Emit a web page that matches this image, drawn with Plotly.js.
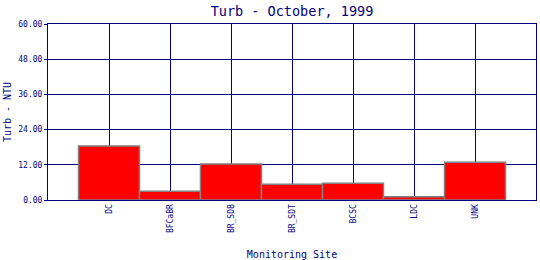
<!DOCTYPE html>
<html>
<head>
<meta charset="utf-8">
<script src="https://cdn.plot.ly/plotly-3.0.1.min.js"></script>
<style>html,body{margin:0;padding:0;background:#fff;}#chart{width:540px;height:260px;}</style>
</head>
<body>
<div id="chart"></div>
<script>
const sites = ["DC", "BFCaBR", "BR_SDB", "BR_SDT", "BCSC", "LDC", "UNK"];
const turb = [18.4, 3.0, 12.3, 5.4, 5.7, 1.1, 12.9];
const yTicks = [0, 12, 24, 36, 48, 60];

const navy = "#000080";
const mono = "DejaVu Sans Mono, Liberation Mono, monospace";

Plotly.newPlot("chart", [{
  type: "bar",
  x: sites,
  y: turb,
  marker: {color: "#ff0000", line: {color: "#808080", width: 1.5}},
  hoverinfo: "none"
}], {
  width: 540, height: 260,
  margin: {l: 48, r: 4, t: 24, b: 60, pad: 0},
  paper_bgcolor: "#ffffff", plot_bgcolor: "#ffffff",
  bargap: 0,
  showlegend: false,
  title: {text: "Turb - October, 1999", font: {family: mono, size: 13.5, color: navy, weight: "normal"}, xref: "paper", x: 0.5, xanchor: "center", yref: "container", y: 0.958, yanchor: "middle"},
  xaxis: {
    type: "category",
    range: [-1, 7],
    showgrid: true, gridcolor: navy, gridwidth: 1,
    showline: true, linecolor: navy, linewidth: 1, mirror: true,
    ticks: "", tickangle: -90,
    tickfont: {family: mono, size: 8, color: navy},
    title: {text: "Monitoring Site", font: {family: mono, size: 10, color: navy}, standoff: 18},
    fixedrange: true
  },
  yaxis: {
    range: [0, 60],
    tickvals: yTicks,
    tickformat: ".2f",
    showgrid: true, gridcolor: navy, gridwidth: 1,
    zeroline: false,
    showline: true, linecolor: navy, linewidth: 1, mirror: true,
    ticks: "outside", ticklen: 3, tickcolor: navy,
    tickfont: {family: mono, size: 8, color: navy},
    title: {text: "Turb - NTU", font: {family: mono, size: 10, color: navy}, standoff: 4},
    fixedrange: true
  }
}, {displayModeBar: false, staticPlot: true});
</script>
</body>
</html>
